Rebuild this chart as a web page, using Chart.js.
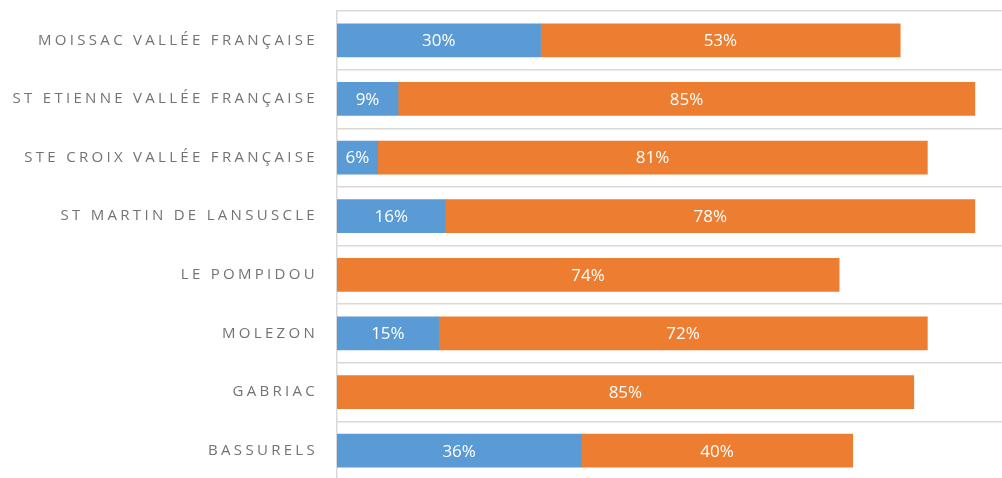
<!DOCTYPE html>
<html>
<head>
<meta charset="utf-8">
<script src="https://cdn.jsdelivr.net/npm/chart.js@4"></script>
<style>
  html, body { margin: 0; padding: 0; background: #fff; overflow: hidden; }
  .chart-wrap { position: relative; width: 1002px; height: 490px; }
</style>
</head>
<body>
<div class="chart-wrap"><canvas id="chart"></canvas></div>
<script>
// Communes et parts (en %)
const communes = [
  'MOISSAC VALLÉE FRANÇAISE',
  'ST ETIENNE VALLÉE FRANÇAISE',
  'STE CROIX VALLÉE FRANÇAISE',
  'ST MARTIN DE LANSUSCLE',
  'LE POMPIDOU',
  'MOLEZON',
  'GABRIAC',
  'BASSURELS'
];
const partBleue = [30, 9, 6, 16, null, 15, null, 36];
const partOrange = [53, 85, 81, 78, 74, 72, 85, 40];

const AXIS_MAX = 98;

// letter spacing for the category labels only
const spacedTicks = {
  id: 'spacedTicks',
  beforeDraw(chart) { chart.ctx.letterSpacing = '3.3px'; },
  beforeDatasetsDraw(chart) { chart.ctx.letterSpacing = '0px'; }
};

// white % labels centred in each segment
const segmentLabels = {
  id: 'segmentLabels',
  afterDatasetsDraw(chart) {
    const ctx = chart.ctx;
    ctx.save();
    ctx.font = '17px "Open Sans"';
    ctx.fillStyle = '#ffffff';
    ctx.textAlign = 'center';
    ctx.textBaseline = 'middle';
    chart.data.datasets.forEach((ds, i) => {
      const meta = chart.getDatasetMeta(i);
      meta.data.forEach((bar, j) => {
        const v = ds.data[j];
        if (v == null) return;
        ctx.fillText(v + '%', (bar.x + bar.base) / 2, bar.y + 1);
      });
    });
    ctx.restore();
  }
};

new Chart(document.getElementById('chart'), {
  type: 'bar',
  data: {
    labels: communes,
    datasets: [
      { label: 'Part 1', data: partBleue, backgroundColor: '#5b9bd5', barThickness: 33 },
      { label: 'Part 2', data: partOrange, backgroundColor: '#ed7d31', barThickness: 33 }
    ]
  },
  options: {
    indexAxis: 'y',
    responsive: true,
    maintainAspectRatio: false,
    animation: false,
    layout: { padding: { top: 11, bottom: 10, left: 0, right: 0 } },
    scales: {
      x: {
        stacked: true,
        display: false,
        min: 0,
        max: AXIS_MAX
      },
      y: {
        stacked: true,
        afterFit: s => {
          s.width = 337;
          s.paddingTop = 0;
          s.paddingBottom = 0;
        },
        grid: { color: '#d9d9d9', lineWidth: 1.5, drawTicks: false },
        border: { color: '#d9d9d9', width: 1.5 },
        ticks: {
          color: '#737373',
          padding: 19,
          font: { family: '"Open Sans"', size: 15 }
        }
      }
    },
    plugins: {
      legend: { display: false },
      tooltip: { enabled: false }
    }
  },
  plugins: [spacedTicks, segmentLabels]
});
</script>
</body>
</html>
